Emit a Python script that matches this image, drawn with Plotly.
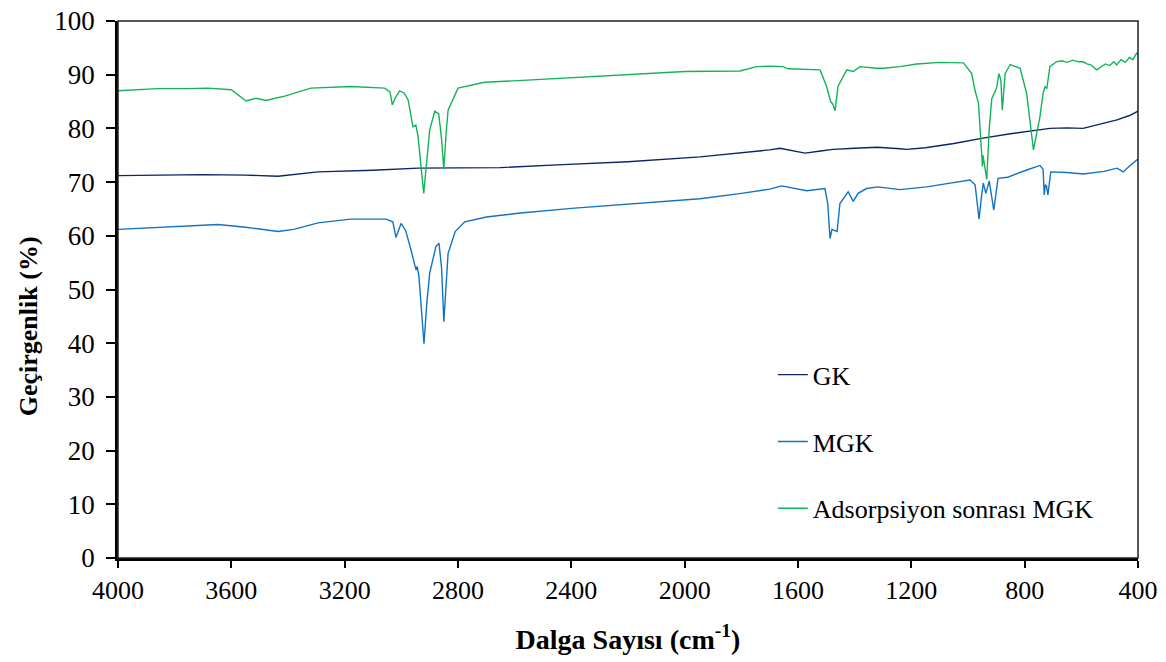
import plotly.graph_objects as go

# GK (dark navy)
gk_x = [4000, 3850, 3700, 3550, 3435, 3294, 3100, 2941, 2800, 2652, 2450, 2200, 1946, 1800, 1700, 1664, 1620, 1575, 1520, 1476, 1400, 1321, 1240, 1216, 1150, 1050, 947, 850, 711, 650, 594, 540, 474, 430, 405, 400]
gk_y = [71.2, 71.3, 71.4, 71.3, 71.1, 71.9, 72.2, 72.6, 72.6, 72.7, 73.2, 73.8, 74.7, 75.4, 76.0, 76.3, 75.9, 75.4, 75.8, 76.1, 76.3, 76.5, 76.2, 76.1, 76.4, 77.2, 78.2, 79.0, 80.0, 80.1, 80.0, 80.7, 81.6, 82.4, 83.1, 83.2]

# MGK (blue)
mgk_x = [4000, 3800, 3647, 3550, 3435, 3380, 3294, 3178, 3054, 3030, 3019, 3001, 2985, 2966, 2948, 2944, 2938, 2920, 2910, 2900, 2878, 2867, 2858, 2850, 2842, 2835, 2810, 2776, 2700, 2588, 2400, 2200, 1946, 1800, 1734, 1700, 1658, 1620, 1569, 1505, 1495, 1487, 1480, 1476, 1462, 1452, 1423, 1405, 1388, 1358, 1318, 1240, 1146, 1063, 993, 975, 961, 952, 946, 937, 925, 909, 894, 860, 828, 790, 746, 735, 731, 727, 723, 718, 708, 650, 594, 520, 474, 452, 430, 405, 400]
mgk_y = [61.2, 61.7, 62.1, 61.6, 60.8, 61.2, 62.4, 63.1, 63.1, 62.6, 59.7, 62.3, 61.0, 57.4, 53.6, 54.3, 52.5, 39.9, 47.5, 53.0, 58.0, 58.6, 54.0, 44.0, 52.0, 56.7, 60.8, 62.6, 63.5, 64.2, 65.1, 65.9, 66.9, 67.9, 68.5, 68.7, 69.3, 68.9, 68.4, 68.8, 66.0, 59.5, 61.2, 61.1, 60.8, 66.0, 68.2, 66.4, 67.9, 68.8, 69.1, 68.6, 69.1, 69.8, 70.4, 69.5, 63.1, 67.5, 69.8, 67.9, 70.2, 64.8, 70.7, 70.9, 71.6, 72.3, 73.1, 72.4, 67.6, 69.5, 69.3, 67.6, 71.9, 71.8, 71.5, 72.0, 72.6, 71.9, 73.0, 74.2, 74.3]

# Adsorpsiyon sonrası MGK (green)
ads_x = [4000, 3859, 3760, 3682, 3600, 3548, 3513, 3478, 3412, 3319, 3178, 3059, 3040, 3032, 3020, 3006, 2990, 2976, 2959, 2949, 2941, 2921, 2910, 2900, 2882, 2868, 2858, 2850, 2842, 2835, 2800, 2706, 2588, 2400, 2200, 2000, 1805, 1746, 1700, 1653, 1635, 1580, 1522, 1499, 1485, 1478, 1469, 1459, 1428, 1405, 1381, 1322, 1299, 1240, 1181, 1100, 1016, 987, 975, 963, 949, 947, 934, 925, 916, 899, 891, 884, 879, 869, 851, 816, 793, 769, 746, 735, 728, 722, 711, 688, 670, 650, 630, 610, 594, 580, 565, 546, 530, 515, 500, 485, 475, 460, 445, 430, 418, 405, 400]
ads_y = [87.0, 87.4, 87.4, 87.5, 87.2, 85.1, 85.6, 85.2, 86.0, 87.5, 87.8, 87.5, 86.8, 84.4, 85.8, 87.0, 86.6, 85.3, 80.3, 80.6, 78.5, 67.9, 74.0, 79.7, 83.2, 82.7, 78.0, 72.4, 79.0, 83.4, 87.5, 88.6, 88.9, 89.4, 90.0, 90.6, 90.7, 91.5, 91.6, 91.5, 91.1, 91.0, 90.9, 87.8, 85.0, 84.6, 83.3, 87.8, 90.9, 90.6, 91.5, 91.2, 91.2, 91.5, 92.0, 92.3, 92.2, 90.2, 87.0, 84.7, 72.9, 75.0, 70.5, 80.0, 85.6, 87.5, 90.2, 89.0, 83.4, 90.2, 91.9, 91.2, 86.5, 76.0, 82.2, 86.5, 87.8, 87.4, 91.5, 92.4, 92.6, 92.3, 92.7, 92.4, 92.4, 92.0, 91.8, 90.9, 91.4, 92.0, 91.7, 92.4, 91.8, 92.8, 92.3, 93.2, 92.8, 94.0, 93.7]

x_ticks = [4000, 3600, 3200, 2800, 2400, 2000, 1600, 1200, 800, 400]

FONT = "Liberation Serif"

fig = go.Figure()
fig.add_trace(go.Scatter(x=gk_x, y=gk_y, mode="lines", name="GK",
                         line=dict(color="#0B2566", width=1.4), legendgroup="a"))
fig.add_trace(go.Scatter(x=mgk_x, y=mgk_y, mode="lines", name="MGK",
                         line=dict(color="#1272C4", width=1.4), legendgroup="b"))
fig.add_trace(go.Scatter(x=ads_x, y=ads_y, mode="lines", name="Adsorpsiyon sonrası MGK",
                         line=dict(color="#13B35A", width=1.4), legendgroup="c"))

fig.update_layout(
    width=1166, height=662,
    margin=dict(l=118, r=28, t=21, b=104, autoexpand=False),
    paper_bgcolor="white", plot_bgcolor="white",
    font=dict(family=FONT, size=26, color="black"),
    showlegend=True,
    legend=dict(x=0.642, y=0.385, xanchor="left", yanchor="top",
                bgcolor="rgba(0,0,0,0)", tracegroupgap=30,
                font=dict(family=FONT, size=26, color="black")),
    xaxis=dict(range=[4000, 400], autorange=False, automargin=False,
               tickvals=x_ticks,
               ticks="outside", ticklen=7, tickwidth=1.5, tickcolor="black",
               showline=True, linecolor="black", linewidth=2.5,
               showgrid=False, zeroline=False,
               tickfont=dict(family=FONT, size=26, color="black"),
               title=dict(text="<b>Dalga Sayısı (cm<sup>-1</sup>)</b>",
                          font=dict(family=FONT, size=28, color="black"), standoff=26)),
    yaxis=dict(range=[0, 100], autorange=False, dtick=10, automargin=False,
               ticks="outside", ticklen=9, tickwidth=1.5, tickcolor="black",
               showline=True, linecolor="black", linewidth=2.5,
               showgrid=False, zeroline=False, ticklabelstandoff=6,
               tickfont=dict(family=FONT, size=27, color="black")),
)
fig.add_annotation(text="<b>Geçirgenlik (%)</b>", xref="paper", yref="paper",
                   x=-0.088, y=0.432, xanchor="center", yanchor="middle",
                   textangle=-90, showarrow=False,
                   font=dict(family=FONT, size=26, color="black"))
fig.add_shape(type="rect", xref="paper", yref="paper", x0=0, y0=0, x1=1, y1=1,
              line=dict(color="#222222", width=1.5), layer="above")

fig.write_html("out.html")
